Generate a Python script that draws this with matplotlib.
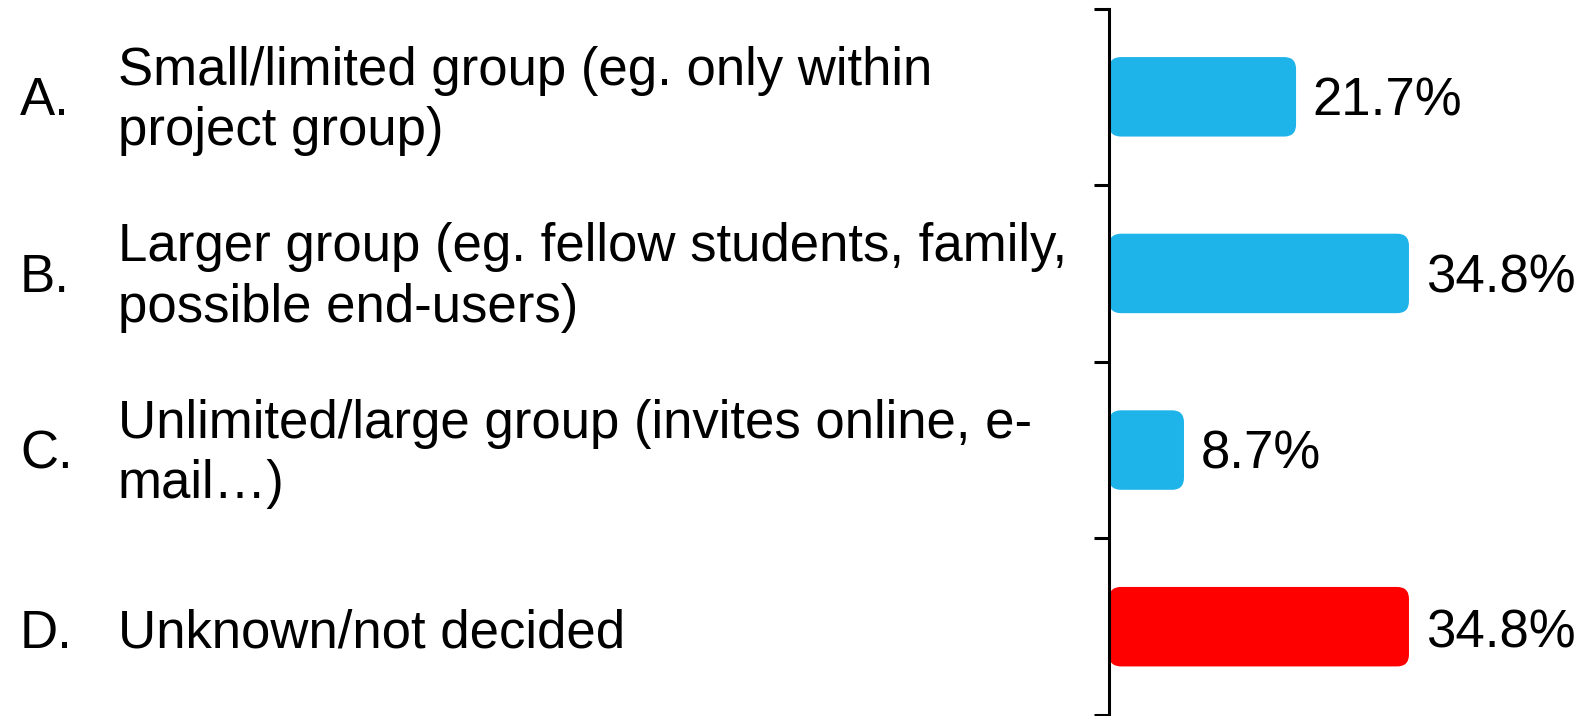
import numpy as np
import matplotlib
matplotlib.use('Agg')
import matplotlib.pyplot as plt
import matplotlib.transforms as mtransforms
from matplotlib.patches import FancyBboxPatch

letters = ['A.', 'B.', 'C.', 'D.']
answers = ['Small/limited group (eg. only within\nproject group)',
           'Larger group (eg. fellow students, family,\npossible end-users)',
           'Unlimited/large group (invites online, e-\nmail\u2026)',
           'Unknown/not decided']
values = [21.7, 34.8, 8.7, 34.8]
bar_colors = ['#1EB4EA', '#1EB4EA', '#1EB4EA', '#FF0000']

plt.rcParams['font.family'] = ['Liberation Sans', 'DejaVu Sans']
W, H, DPI = 1583, 716, 100
fig = plt.figure(figsize=(W / DPI, H / DPI), dpi=DPI)

# axis line sits at x=1109px, ticks from 8.5px to 715px from the top
ax = fig.add_axes([1109 / W, 1 / H, 1 - 1109 / W, (715 - 8.5) / H])
ax.set_xlim(0, 474 / 8.62)
ax.set_ylim(3.5, -0.5)

for s in ['top', 'right', 'bottom']:
    ax.spines[s].set_visible(False)
ax.spines['left'].set_linewidth(2.2)
ax.set_xticks([])
ax.set_yticks(np.arange(-0.5, 4, 1.0))
ax.set_yticklabels([])
ax.tick_params(axis='y', length=11, width=2.2, direction='out')

# rounded bars, same pixel radius in both directions
ypos = np.arange(len(values))
bh = 0.45
bbox = ax.get_window_extent()
pxx = bbox.width / (ax.get_xlim()[1] - ax.get_xlim()[0])
pxy = bbox.height / 4.0
rad = 12 / pxx
# the last row's text sits a few pixels lower in the original
nudge = [0.0, 0.0, 0.0, 0.015]
for y, v, c, n in zip(ypos, values, bar_colors, nudge):
    p = FancyBboxPatch((0, y - bh / 2), v, bh,
                       boxstyle='round,pad=0,rounding_size=%f' % rad,
                       mutation_aspect=pxx / pxy, fc=c, ec='none', clip_on=False)
    ax.add_patch(p)
    ax.annotate('%.1f%%' % v, xy=(v, y + 0.026 + n), xytext=(12, 0),
                textcoords='offset points',
                va='center', ha='left', fontsize=38, color='black')

trans = mtransforms.blended_transform_factory(fig.transFigure, ax.transData)
for y, let, txt, n in zip(ypos, letters, answers, nudge):
    ax.text(20 / W, y + 0.026 + n, let, transform=trans, ha='left', va='center',
            fontsize=38, color='black')
    dy = 0.023 if '\n' in txt else 0.026 + n
    ax.text(118 / W, y + dy, txt, transform=trans, ha='left', va='center',
            fontsize=38, color='black', linespacing=1.26)

fig.savefig('out.png', dpi=DPI)
